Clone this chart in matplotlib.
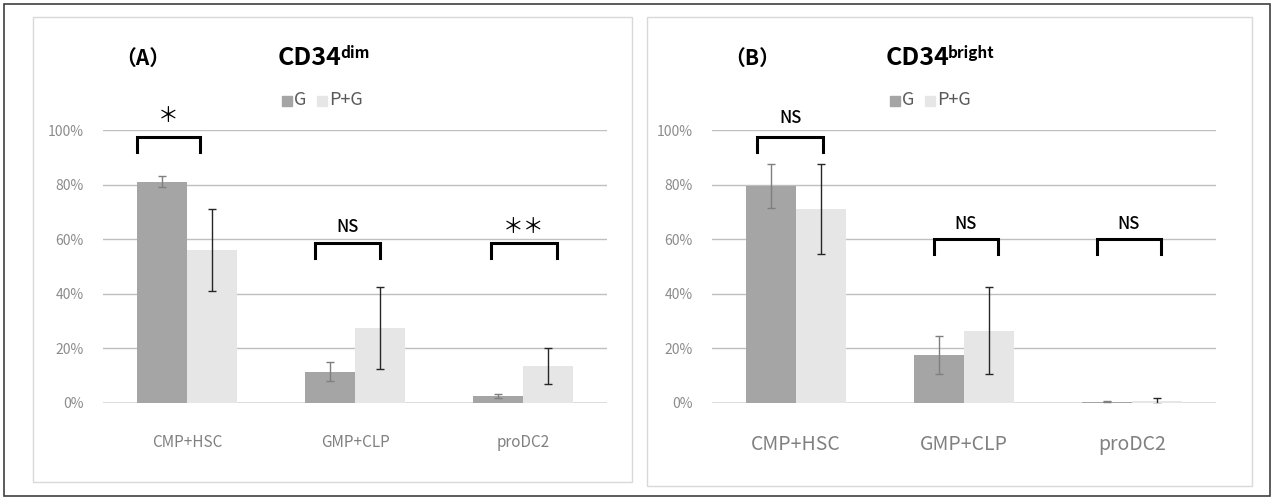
import numpy as np
import matplotlib
matplotlib.use('Agg')
import matplotlib.pyplot as plt
from matplotlib.patches import Rectangle

plt.rcParams['font.family'] = ['Noto Sans CJK JP', 'DejaVu Sans']

# Data (fractions)
categories = ["CMP+HSC", "GMP+CLP", "proDC2"]
series = ["G", "P+G"]

dim_g = [0.81, 0.115, 0.025]
dim_g_err = [0.02, 0.035, 0.008]
dim_pg = [0.56, 0.275, 0.135]
dim_pg_err = [0.15, 0.15, 0.065]
dim_sig = ["＊", "NS", "＊＊"]

bright_g = [0.795, 0.175, 0.005]
bright_g_err = [0.08, 0.07, 0.002]
bright_pg = [0.71, 0.265, 0.008]
bright_pg_err = [0.165, 0.16, 0.01]
bright_sig = ["NS", "NS", "NS"]

W, H = 1274, 499
C_G = "#a5a5a5"
C_PG = "#e7e6e6"

fig = plt.figure(figsize=(W / 100, H / 100), dpi=100)


def fbox(x0, y0, x1, y1):
    # pixel box (top-left origin) -> figure fraction [l, b, w, h]
    return [x0 / W, 1 - y1 / H, (x1 - x0) / W, (y1 - y0) / H]


# outer frame and panel boxes
fig.patches.append(Rectangle((4 / W, 1 - 496 / H), 1266 / W, 492 / H, transform=fig.transFigure,
                             fill=False, edgecolor="#404040", linewidth=1.2))
fig.patches.append(Rectangle((33 / W, 1 - 482 / H), 599 / W, 465 / H, transform=fig.transFigure,
                             fill=False, edgecolor="#d9d9d9", linewidth=1))
fig.patches.append(Rectangle((647 / W, 1 - 486 / H), 605 / W, 469 / H, transform=fig.transFigure,
                             fill=False, edgecolor="#d9d9d9", linewidth=1))


def panel(box, g, g_err, pg, pg_err, sig, brackets, xfs, label, title, sup, title_px, leg_px):
    ax = fig.add_axes(fbox(*box))
    x = np.arange(len(categories))
    bw = 0.3
    ax.bar(x - bw / 2, g, bw, color=C_G, zorder=3)
    ax.bar(x + bw / 2, pg, bw, color=C_PG, zorder=3)
    ax.errorbar(x - bw / 2, g, yerr=g_err, fmt="none", ecolor="#7f7f7f", elinewidth=1,
                capsize=3, capthick=1, zorder=4)
    ax.errorbar(x + bw / 2, pg, yerr=pg_err, fmt="none", ecolor="#262626", elinewidth=1,
                capsize=3, capthick=1, zorder=4)
    ax.set_xlim(-0.5, 2.5)
    ax.set_ylim(0, 1.0)
    ax.set_yticks(np.arange(0, 1.01, 0.2))
    ax.set_yticklabels([f"{int(round(v * 100))}%" for v in np.arange(0, 1.01, 0.2)])
    ax.set_xticks(x)
    ax.set_xticklabels(categories, fontsize=xfs, color="#808080")
    ax.tick_params(axis="y", length=0, pad=14, labelsize=10, labelcolor="#8c8c8c")
    ax.tick_params(axis="x", length=0, pad=22)
    for s in ax.spines.values():
        s.set_visible(False)
    ax.grid(axis="y", color="#bfbfbf", linewidth=1, zorder=0)
    ax.set_axisbelow(True)
    ax.axhline(0, color="#d9d9d9", linewidth=1.2, zorder=2)

    # significance brackets (offsets relative to each category)
    for i, ((x0, x1, ytop, yleg, ytxt), s) in enumerate(zip(brackets, sig)):
        ax.plot([i + x0, i + x0, i + x1, i + x1], [yleg, ytop, ytop, yleg], color="black",
                linewidth=2.2, clip_on=False, zorder=5, solid_joinstyle="miter")
        if "＊" in s:
            ax.text(i + (x0 + x1) / 2, ytxt, s, ha="center", va="center",
                    fontsize=15, clip_on=False)
        else:
            ax.text(i + (x0 + x1) / 2, ytxt, s, ha="center", va="center",
                    fontsize=12, fontweight="medium", clip_on=False)

    # panel label and title
    lx, tx, ty = title_px
    fig.text(lx / W, 1 - ty / H, label, ha="center", va="center", fontsize=15, fontweight="bold")
    t = fig.text(tx / W, 1 - ty / H, title, ha="left", va="center", fontsize=18, fontweight="bold")
    fig.canvas.draw()
    ext = t.get_window_extent()
    fig.text((ext.x1 - 2) / W, (ext.y1 + 1) / H, sup, ha="left", va="top",
             fontsize=11, fontweight="bold")

    # legend
    gx, ly = leg_px
    for i, (name, col) in enumerate(zip(series, [C_G, C_PG])):
        sx = gx + i * 35
        fig.patches.append(Rectangle((sx / W, 1 - (ly + 6) / H), 10 / W, 10 / H,
                                     transform=fig.transFigure, color=col))
        fig.text((sx + 12) / W, 1 - ly / H, name, ha="left", va="center", fontsize=13,
                 color="#595959")
    return ax


panel((103, 130, 607, 403), dim_g, dim_g_err, dim_pg, dim_pg_err, dim_sig,
      [(-0.30, 0.08, 0.974, 0.92, 1.05),
       (-0.24, 0.15, 0.586, 0.53, 0.645),
       (-0.19, 0.20, 0.586, 0.53, 0.645)],
      11, "（A）", "CD34", "dim", (143, 278, 58), (282, 100))

panel((712, 130, 1216, 403), bright_g, bright_g_err, bright_pg, bright_pg_err, bright_sig,
      [(-0.23, 0.16, 0.974, 0.92, 1.045),
       (-0.18, 0.20, 0.60, 0.545, 0.655),
       (-0.21, 0.17, 0.60, 0.545, 0.655)],
      14, "（B）", "CD34", "bright", (752, 886, 58), (890, 100))

fig.savefig("out.png", dpi=100)
